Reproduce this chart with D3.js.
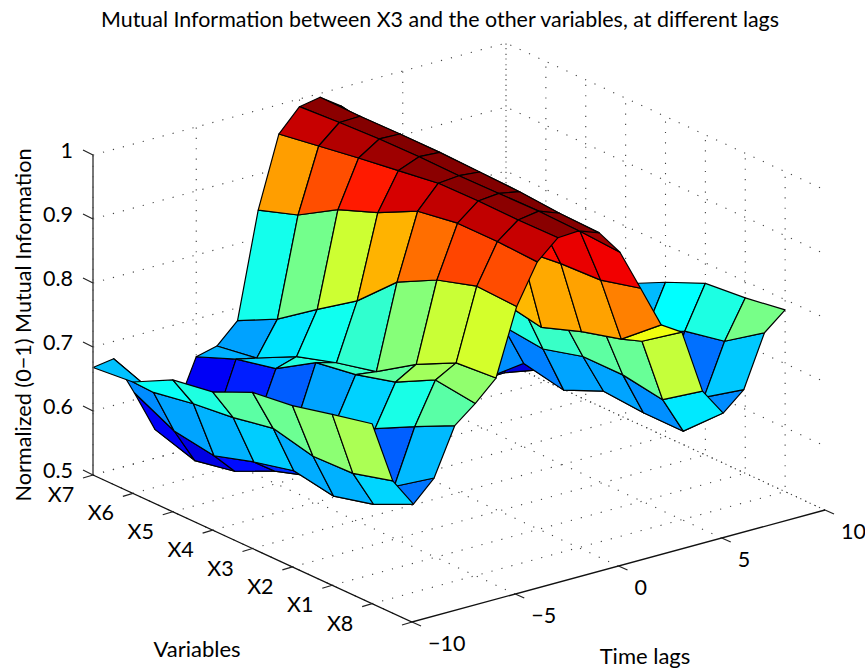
<!DOCTYPE html>
<meta charset="utf-8">
<style>
  body { margin: 0; background: #fff; }
  text { font-family: Lato, "Open Sans", sans-serif; fill: #000; }
</style>
<script src="https://d3js.org/d3.v7.min.js"></script>
<svg id="chart" width="865" height="669"></svg>
<script>
  // Time lags along one side of the surface
  var lags = [-10,-9,-8,-7,-6,-5,-4,-3,-2,-1,0,1,2,3,4,5,6,7,8,9,10];

  // Mutual information per variable, one value per lag
  var miX7 = [.668,.673,.611,.545,.565,.641,.649,.680,.844,.954,.988,.994,.972,.850,.720,.660,.620,.550,.560,.600,.640];
  var miX6 = [.674,.649,.580,.525,.579,.666,.659,.711,.865,.964,.992,.993,.960,.850,.730,.670,.630,.530,.531,.630,.670];
  var miX5 = [.706,.660,.570,.537,.598,.680,.690,.755,.902,.974,.995,.994,.955,.850,.735,.690,.650,.583,.565,.650,.690];
  var miX4 = [.716,.667,.589,.566,.627,.718,.709,.797,.926,.983,.996,.994,.950,.840,.735,.718,.643,.570,.575,.660,.710];
  var miX3 = [.744,.679,.604,.586,.660,.728,.724,.855,.957,.992,.995,.992,.945,.853,.723,.728,.660,.597,.596,.670,.741];
  var miX2 = [.752,.664,.593,.596,.681,.745,.764,.887,.967,.993,.996,.990,.933,.860,.745,.745,.660,.592,.610,.702,.768];
  var miX1 = [.767,.666,.609,.628,.713,.777,.795,.906,.967,.992,.997,.985,.948,.863,.762,.750,.650,.592,.636,.715,.774];
  var miX8 = [.781,.683,.638,.670,.743,.769,.800,.903,.964,.993,.995,.983,.944,.879,.813,.793,.692,.649,.677,.757,.784];

  var surface = [miX7, miX6, miX5, miX4, miX3, miX2, miX1, miX8];

  var varLabels = ["X7","X6","X5","X4","X3","X2","X1","X8"];
  var lagTicks = [-10,-5,0,5,10];
  var zTicks = [0.5,0.6,0.7,0.8,0.9,1];
  var varTicks = [0,1,2,3,4,5,6,7,8];

  // jet colormap stops
  var jetStops = [0,.125,.375,.625,.875,1];
  var jetColors = ["#00008f","#0000ff","#00ffff","#ffff00","#ff0000","#800000"];

  var svg = d3.select("svg");

  // Oblique projection, each data axis gets its own screen x and y scale
  var lagX = d3.scaleLinear().domain([-10,10]).range([0,413]);
  var lagY = d3.scaleLinear().domain([-10,10]).range([0,-112]);
  var varX = d3.scaleLinear().domain([0,8]).range([0,319]);
  var varY = d3.scaleLinear().domain([0,8]).range([0,147]);
  var zY = d3.scaleLinear().domain([0.5,1]).range([0,-320]);

  function project(lag, v, z) {
    return [93 + lagX(lag) + varX(v), 475 + lagY(lag) + varY(v) + zY(z)];
  }

  var allZ = d3.merge(surface);
  var colorT = d3.scaleLinear().domain(d3.extent(allZ)).range([0,1]);
  var jet = d3.scaleLinear().domain(jetStops).range(jetColors);

  var line = d3.line();

  // Grid on the floor and the two walls
  var gridLines = [];
  zTicks.forEach(function(z) {
    gridLines.push([project(-10,0,z), project(10,0,z), project(10,8,z)]);
  });
  lagTicks.forEach(function(l) {
    gridLines.push([project(l,8,0.5), project(l,0,0.5), project(l,0,1)]);
  });
  // the last variable tick sits on the axis end, it has no wall line
  varTicks.slice(0,-1).forEach(function(v) {
    gridLines.push([project(-10,v,0.5), project(10,v,0.5), project(10,v,1)]);
  });
  gridLines.push([project(10,8,0.5), project(10,0,0.5)]);

  svg.append("g").selectAll("path")
    .data(gridLines)
    .enter()
    .append("path")
      .attr("d", line)
      .attr("fill", "none")
      .attr("stroke", "#444")
      .attr("stroke-width", 1.1)
      .attr("stroke-dasharray", "1.2 9.1");

  // Build the cells, the colour comes from the low lag / next variable corner
  var cells = [];
  for (var v = 0; v < surface.length - 1; v++) {
    for (var k = 0; k < lags.length - 1; k++) {
      var zs = [surface[v][k], surface[v+1][k], surface[v+1][k+1], surface[v][k+1]];
      var midLag = (lags[k] + lags[k+1]) / 2;
      cells.push({
        pts: [
          project(lags[k], v, zs[0]),
          project(lags[k], v+1, zs[1]),
          project(lags[k+1], v+1, zs[2]),
          project(lags[k+1], v, zs[3])
        ],
        value: surface[v+1][k],
        // distance to the camera, for back to front drawing
        near: 1.73 * (lagY(midLag) + varY(v + .5)) - 0.577 * zY(d3.mean(zs))
      });
    }
  }
  cells.sort(function(a, b) { return a.near - b.near; });

  svg.append("g").selectAll("path")
    .data(cells)
    .enter()
    .append("path")
      .attr("d", function(d) { return line(d.pts) + "Z"; })
      .attr("fill", function(d) { return jet(colorT(d.value)); })
      .attr("stroke", "#000")
      .attr("stroke-width", 1.2)
      .attr("stroke-linejoin", "round");

  // Axes
  var axes = svg.append("g").attr("fill", "none");
  axes.append("path")
    .attr("d", line([project(-10,0,0.5), project(-10,0,1)]))
    .attr("stroke", "#555").attr("stroke-width", 1.6);
  axes.append("path")
    .attr("d", line([project(-10,0,0.5), project(-10,8,0.5), project(10,8,0.5)]))
    .attr("stroke", "#111").attr("stroke-width", 1.3);

  var tickSize = 21.5;

  zTicks.forEach(function(z) {
    var p = project(-10,0,z);
    axes.append("path").attr("d", line([p, [p[0]-10, p[1]-5]]))
      .attr("stroke", "#222").attr("stroke-width", 1.2);
    svg.append("text").attr("x", 73).attr("y", p[1] + 3)
      .attr("text-anchor", "end").attr("font-size", tickSize)
      .text(z);
  });

  varTicks.forEach(function(v) {
    var p = project(-10,v,0.5);
    axes.append("path").attr("d", line([p, [p[0]-10, p[1]+3]]))
      .attr("stroke", "#222").attr("stroke-width", 1.2);
    if (varLabels[v]) {
      svg.append("text").attr("x", p[0]-32).attr("y", p[1]+27)
        .attr("text-anchor", "middle").attr("font-size", tickSize)
        .text(varLabels[v]);
    }
  });

  lagTicks.forEach(function(l) {
    var p = project(l,8,0.5);
    axes.append("path").attr("d", line([p, [p[0]+9, p[1]+4]]))
      .attr("stroke", "#222").attr("stroke-width", 1.2);
    svg.append("text").attr("x", p[0]+16).attr("y", p[1]+29)
      .attr("text-anchor", "start").attr("font-size", tickSize)
      .text(d3.format("")(l));
  });

  // Titles
  svg.append("text").attr("x", 440).attr("y", 27)
    .attr("text-anchor", "middle").attr("font-size", 21.5)
    .attr("textLength", 678).attr("lengthAdjust", "spacingAndGlyphs")
    .text("Mutual Information between X3 and the other variables, at different lags");
  svg.append("text").attr("x", 197).attr("y", 657)
    .attr("text-anchor", "middle").attr("font-size", 22)
    .text("Variables");
  svg.append("text").attr("x", 645).attr("y", 664)
    .attr("text-anchor", "middle").attr("font-size", 22)
    .text("Time lags");
  svg.append("text")
    .attr("transform", "translate(31,325) rotate(-90)")
    .attr("text-anchor", "middle").attr("font-size", 21.5)
    .attr("textLength", 353).attr("lengthAdjust", "spacingAndGlyphs")
    .text("Normalized (0\u22121) Mutual Information");
</script>
